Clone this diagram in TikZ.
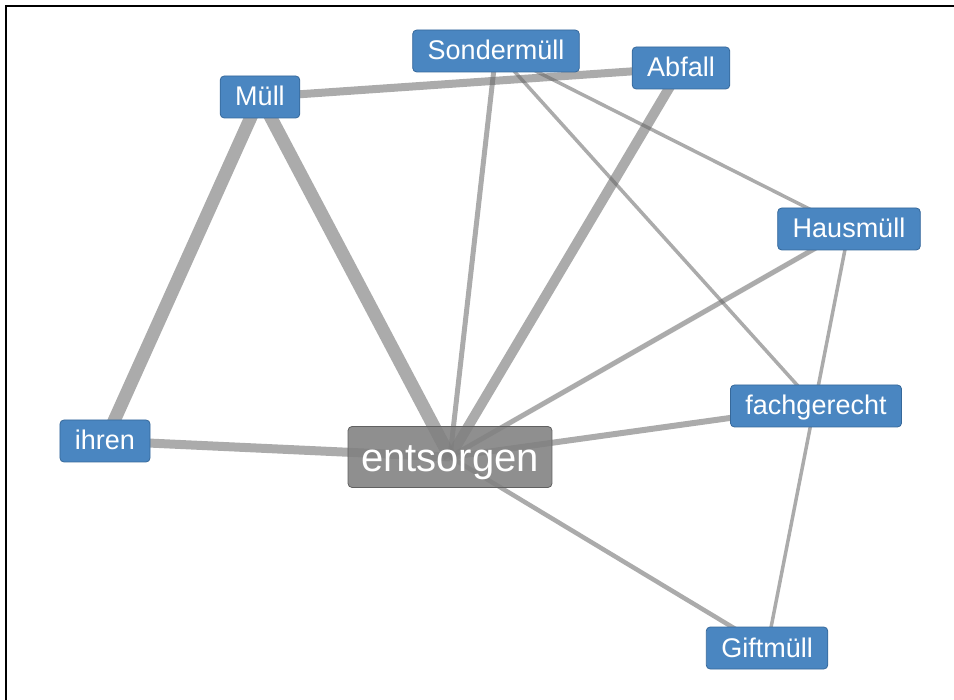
\documentclass[tikz,border=0pt]{standalone}
\usepackage{fontspec}
\setmainfont{Liberation Sans}
\usetikzlibrary{backgrounds}
\definecolor{termblue}{HTML}{4A86C1}
\definecolor{termedge}{HTML}{36689A}

\begin{document}
\begin{tikzpicture}[x=1pt, y=-1pt,
  term/.style={rectangle, draw=termedge, line width=0.8pt, fill=termblue, text=white, rounded corners=4pt, minimum height=42pt, inner xsep=15pt, inner ysep=0pt, text height=21pt, text depth=3pt, font=\fontsize{27}{27}\selectfont},
  keyterm/.style={term, draw=black!62, fill=black!50, fill opacity=0.88, text opacity=1, minimum height=61pt, inner xsep=13pt, text height=38pt, text depth=8pt, font=\fontsize{40}{40}\selectfont},
  link/.style={draw=black!60, draw opacity=0.55, line width=#1}]

  \useasboundingbox (0,0) rectangle (954,700);
  \draw [line width=2.8pt] (6,700) -- (6,6) -- (954,6);

  \node [term] (muell) at (260,97) {Müll};
  \node [term] (sonder) at (496,51) {Sondermüll};
  \node [term] (abfall) at (681,68) {Abfall};
  \node [term] (haus) at (849,229) {Hausmüll};
  \node [term] (fach) at (816,406) {fachgerecht};
  \node [term] (gift) at (767,648) {Giftmüll};
  \node [term] (ihren) at (105,441) {ihren};
  \node [keyterm] (entsorgen) at (450,457) {entsorgen};

  % links run behind the boxes
  \begin{scope}[on background layer, transform canvas={yshift=-7pt}]
  \path [link=13pt] (muell.center) -- (ihren.center);
  \path [link=13pt] (muell.center) -- (entsorgen.center);
  \path [link=8pt] (muell.center) -- (abfall.center);
  \path [link=9pt] (ihren.center) -- (entsorgen.center);
  \path [link=10pt] (abfall.center) -- (entsorgen.center);
  \path [link=5pt] (sonder.center) -- (entsorgen.center);
  \path [link=3.5pt] (sonder.center) -- (haus.center);
  \path [link=3.5pt] (sonder.center) -- (fach.center);
  \path [link=5pt] (haus.center) -- (entsorgen.center);
  \path [link=3.5pt] (haus.center) -- (gift.center);
  \path [link=6pt] (fach.center) -- (entsorgen.center);
  \path [link=4.5pt] (gift.center) -- (entsorgen.center);
  \end{scope}
\end{tikzpicture}
\end{document}
